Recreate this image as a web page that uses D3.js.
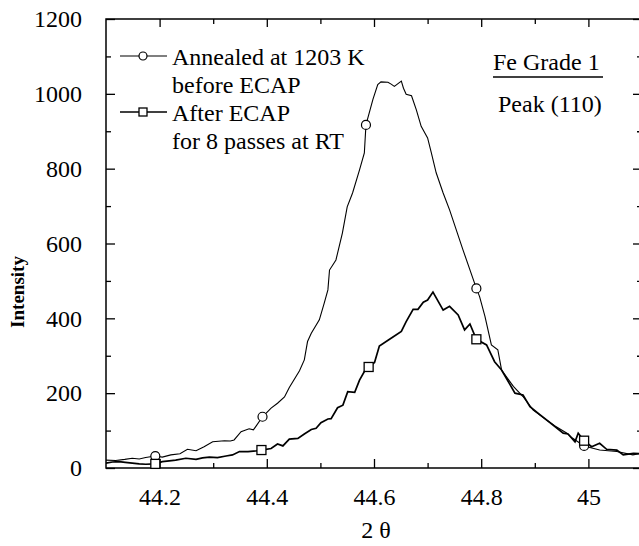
<!DOCTYPE html>
<html>
<head>
<meta charset="utf-8">
<script src="https://cdn.jsdelivr.net/npm/d3@7"></script>
<style>
  body { margin: 0; background: #fff; }
  svg text { font-family: "Liberation Serif", "Times New Roman", Times, serif !important; fill: #000; }
</style>
</head>
<body>
<svg id="chart" width="639" height="546" font-family="Liberation Serif"></svg>
<script>
// annealed sample (thin line, circles)
const annealedX = [44.100, 44.118, 44.135, 44.149, 44.162, 44.174, 44.192, 44.205, 44.221, 44.238,
  44.252, 44.268, 44.283, 44.299, 44.321, 44.332, 44.339, 44.352, 44.367, 44.375,
  44.380, 44.392, 44.408, 44.420, 44.433, 44.442, 44.461, 44.470, 44.476, 44.483,
  44.498, 44.507, 44.514, 44.517, 44.529, 44.541, 44.550, 44.560, 44.573, 44.582,
  44.585, 44.598, 44.607, 44.613, 44.626, 44.632, 44.638, 44.651, 44.655, 44.660,
  44.670, 44.679, 44.688, 44.700, 44.707, 44.716, 44.729, 44.741, 44.766, 44.791,
  44.797, 44.807, 44.819, 44.831, 44.838, 44.860, 44.878, 44.897, 44.922, 44.940,
  44.960, 44.970, 44.992, 45.021, 45.053, 45.083, 45.100]
const annealedY = [21, 20, 23, 26, 24, 28, 32, 29, 35, 38,
  50, 46, 57, 70, 73, 72, 75, 97, 105, 102,
  112, 137, 160, 173, 190, 215, 260, 289, 338, 360,
  396, 440, 476, 529, 556, 628, 698, 735, 797, 842,
  917, 985, 1025, 1032, 1031, 1026, 1020, 1034, 1015, 999,
  995, 957, 913, 882, 842, 789, 735, 690, 583, 480,
  458, 405, 329, 316, 262, 218, 191, 155, 128, 110,
  93, 80, 59, 48, 44, 35, 40]
const annealedMarks = [44.192, 44.392, 44.585, 44.791, 44.992]

// after ECAP sample (heavier line, squares)
const ecapX = [44.100, 44.112, 44.124, 44.136, 44.149, 44.162, 44.174, 44.192, 44.205, 44.218,
  44.230, 44.249, 44.268, 44.280, 44.293, 44.308, 44.324, 44.336, 44.349, 44.365,
  44.380, 44.390, 44.408, 44.420, 44.430, 44.442, 44.458, 44.470, 44.483, 44.492,
  44.501, 44.514, 44.520, 44.532, 44.542, 44.551, 44.564, 44.573, 44.582, 44.590,
  44.601, 44.610, 44.629, 44.651, 44.660, 44.673, 44.682, 44.692, 44.700, 44.710,
  44.729, 44.741, 44.757, 44.769, 44.779, 44.791, 44.810, 44.825, 44.838, 44.863,
  44.878, 44.891, 44.910, 44.934, 44.953, 44.962, 44.975, 44.981, 44.992, 45.006,
  45.021, 45.034, 45.053, 45.065, 45.084, 45.100]
const ecapY = [13, 16, 17, 15, 13, 11, 10, 11, 17, 19,
  21, 26, 23, 27, 29, 28, 32, 35, 44, 44,
  46, 48, 52, 64, 59, 77, 79, 91, 103, 106,
  121, 131, 132, 161, 168, 204, 202, 235, 258, 270,
  282, 326, 344, 365, 391, 424, 424, 443, 449, 470,
  422, 432, 409, 369, 385, 344, 329, 284, 262, 200,
  195, 164, 142, 115, 93, 91, 70, 93, 73, 57,
  66, 50, 48, 35, 39, 38]
const ecapMarks = [44.192, 44.390, 44.590, 44.791, 44.992]

const xMajor = [44.2, 44.4, 44.6, 44.8, 45.0]
const xMajorLabels = ["44.2", "44.4", "44.6", "44.8", "45"]
const xMinor = [44.3, 44.5, 44.7, 44.9]
const yMajor = [0, 200, 400, 600, 800, 1000, 1200]
const yMinor = [100, 300, 500, 700, 900, 1100]

const legendLabels = [["Annealed at 1203 K", "before ECAP"], ["After ECAP", "for 8 passes at RT"]]

const serif = "Liberation Serif, Times New Roman, serif"
const svg = d3.select("#chart")
const plotLeft = 106, plotRight = 642, plotTop = 19, plotBottom = 468

const x = d3.scaleLinear().domain([44.1, 45.1]).range([plotLeft, plotRight])
const y = d3.scaleLinear().domain([0, 1200]).range([plotBottom, plotTop])

svg.append("rect").attr("width", 639).attr("height", 546).attr("fill", "#fff")

// frame
svg.append("rect")
    .attr("x", plotLeft).attr("y", plotTop)
    .attr("width", plotRight - plotLeft).attr("height", plotBottom - plotTop)
    .attr("fill", "none").attr("stroke", "#000").attr("stroke-width", 1.5)

// axes, ticks pointing inwards
svg.append("g").attr("transform", `translate(0,${plotBottom})`)
    .call(d3.axisBottom(x).tickValues(xMajor).tickSize(-9).tickPadding(20)
        .tickFormat((d, i) => xMajorLabels[i]))
svg.append("g").attr("transform", `translate(0,${plotTop})`)
    .call(d3.axisTop(x).tickValues(xMajor).tickSize(-8).tickFormat(""))
svg.append("g").attr("transform", `translate(${plotLeft},0)`)
    .call(d3.axisLeft(y).tickValues(yMajor).tickSize(-9).tickPadding(24).tickFormat(d3.format("d")))
svg.append("g").attr("transform", `translate(${plotRight},0)`)
    .call(d3.axisRight(y).tickValues(yMajor).tickSize(-9).tickFormat(""))

// minor ticks
svg.append("g").attr("transform", `translate(0,${plotBottom})`)
    .call(d3.axisBottom(x).tickValues(xMinor).tickSize(-5).tickFormat(""))
svg.append("g").attr("transform", `translate(0,${plotTop})`)
    .call(d3.axisTop(x).tickValues(xMinor).tickSize(-5).tickFormat(""))
svg.append("g").attr("transform", `translate(${plotLeft},0)`)
    .call(d3.axisLeft(y).tickValues(yMinor).tickSize(-5).tickFormat(""))
svg.append("g").attr("transform", `translate(${plotRight},0)`)
    .call(d3.axisRight(y).tickValues(yMinor).tickSize(-5).tickFormat(""))

svg.selectAll(".domain").remove()
svg.selectAll("g").attr("font-family", serif)
svg.selectAll(".tick line").attr("stroke", "#000").attr("stroke-width", 1.3)
svg.selectAll(".tick text")
    .attr("font-family", serif)
    .attr("font-size", 24)
    .attr("fill", "#000")

// axis titles
svg.append("text")
    .attr("x", 376).attr("y", 538)
    .attr("text-anchor", "middle")
    .attr("font-family", serif)
    .attr("font-size", 24)
    .text("2 θ")

svg.append("text")
    .attr("transform", "translate(24,292) rotate(-90)")
    .attr("text-anchor", "middle")
    .attr("font-family", serif)
    .attr("font-size", 19)
    .attr("font-weight", "bold")
    .text("Intensity")

// curves
const annealed = annealedX.map((v, i) => ({x: v, y: annealedY[i]}))
const ecap = ecapX.map((v, i) => ({x: v, y: ecapY[i]}))

const line = d3.line().x(d => x(d.x)).y(d => y(d.y))

svg.append("path").datum(annealed)
    .attr("d", line)
    .attr("fill", "none").attr("stroke", "#000").attr("stroke-width", 1.1)

svg.append("path").datum(ecap)
    .attr("d", line)
    .attr("fill", "none").attr("stroke", "#000").attr("stroke-width", 1.7)

svg.selectAll(".circ")
    .data(annealed.filter(d => annealedMarks.includes(d.x)))
    .enter().append("circle")
    .attr("cx", d => x(d.x)).attr("cy", d => y(d.y)).attr("r", 4.5)
    .attr("fill", "#fff").attr("stroke", "#000").attr("stroke-width", 1.2)

svg.selectAll(".sq")
    .data(ecap.filter(d => ecapMarks.includes(d.x)))
    .enter().append("rect")
    .attr("x", d => x(d.x) - 4.5).attr("y", d => y(d.y) - 4.5)
    .attr("width", 9).attr("height", 9)
    .attr("fill", "#fff").attr("stroke", "#000").attr("stroke-width", 1.3)

// legend
const legendY = [56, 112]
legendY.forEach((ly, i) => {
    svg.append("line")
        .attr("x1", 120).attr("x2", 167).attr("y1", ly).attr("y2", ly)
        .attr("stroke", "#000").attr("stroke-width", i == 0 ? 1.1 : 1.7)
    if (i == 0) {
        svg.append("circle").attr("cx", 143).attr("cy", ly).attr("r", 4)
            .attr("fill", "#fff").attr("stroke", "#000").attr("stroke-width", 1.2)
    } else {
        svg.append("rect").attr("x", 139).attr("y", ly - 4).attr("width", 8).attr("height", 8)
            .attr("fill", "#fff").attr("stroke", "#000").attr("stroke-width", 1.3)
    }
    legendLabels[i].forEach((t, j) => {
        svg.append("text")
            .attr("x", 172).attr("y", ly + 9 + j * 28)
            .attr("font-family", serif)
            .attr("font-size", 24)
            .text(t)
    })
})

// sample note
svg.append("text").attr("x", 493).attr("y", 70)
    .attr("font-family", serif).attr("font-size", 24).text("Fe Grade 1")
svg.append("line").attr("x1", 493).attr("x2", 603).attr("y1", 77).attr("y2", 77)
    .attr("stroke", "#000").attr("stroke-width", 1.3)
svg.append("text").attr("x", 498).attr("y", 112)
    .attr("font-family", serif).attr("font-size", 24).text("Peak (110)")
</script>
</body>
</html>
